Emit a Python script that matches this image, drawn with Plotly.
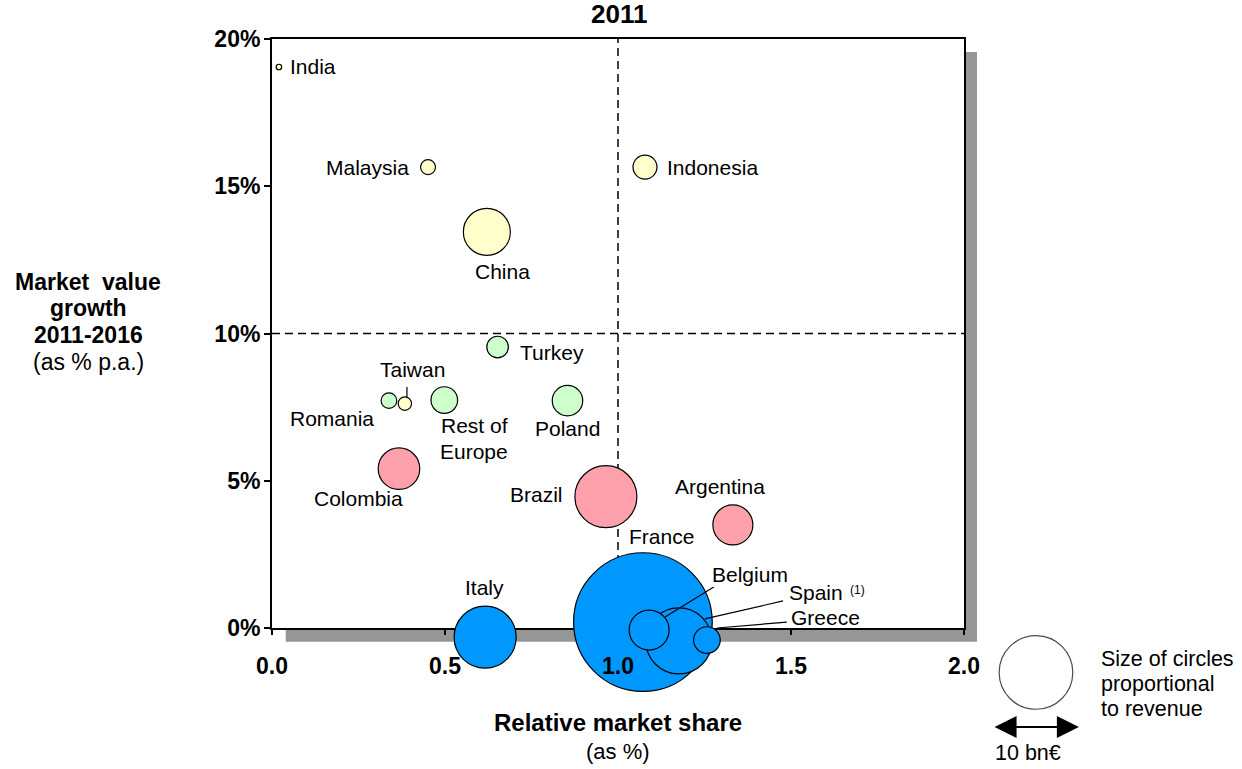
import plotly.graph_objects as go

# ---------------- data ----------------
countries = ["India", "Malaysia", "Indonesia", "China", "Turkey", "Romania", "Taiwan",
             "Rest of Europe", "Poland", "Colombia", "Brazil", "Argentina",
             "Italy", "France", "Spain", "Belgium", "Greece"]
rel_share = [0.020, 0.451, 1.078, 0.621, 0.652, 0.338, 0.384,
             0.498, 0.854, 0.367, 0.965, 1.332,
             0.616, 1.072, 1.176, 1.090, 1.257]
growth = [19.05, 15.65, 15.65, 13.45, 9.54, 7.72, 7.62,
          7.74, 7.72, 5.41, 4.46, 3.50,
          -0.31, 0.20, -0.44, -0.07, -0.41]
revenue = [0.056, 0.415, 1.06, 4.08, 0.86, 0.45, 0.33,
           1.31, 1.71, 3.19, 7.10, 2.95,
           7.10, 35.5, 8.04, 2.95, 1.31]          # bn EUR
region = ["asia", "asia", "asia", "asia", "europe", "europe", "asia",
          "europe", "europe", "latam", "latam", "latam",
          "core", "core", "core", "core", "core"]
legend_revenue = 10  # bn EUR

x_ticks = [0.0, 0.5, 1.0, 1.5, 2.0]
x_ticktext = ["0.0", "0.5", "1.0", "1.5", "2.0"]
y_ticks = [0, 5, 10, 15, 20]
y_ticktext = ["0%", "5%", "10%", "15%", "20%"]
x_range = [0, 2]
y_range = [0, 20]

# ---------------- geometry / styles ----------------
W, H = 1242, 769
PL, PR, PT, PB = 272, 964, 39, 628          # plot frame in px
region_colors = {"asia": "#FFFFCC", "europe": "#CCFFCC", "latam": "#FFA1AC", "core": "#0098FF"}
FONT = "Liberation Sans, Arial, Helvetica, sans-serif"
LEG_R = 36.8  # legend circle radius in px for 10 bn EUR
sizeref = legend_revenue / (2 * LEG_R ** 2)

# bubble layer: full-figure axes with the same scale as the framed axes
sx = (PR - PL) / (x_range[1] - x_range[0])
sy = (PB - PT) / (y_range[1] - y_range[0])
bx_range = [x_range[0] - PL / sx, x_range[0] + (W - PL) / sx]
by_range = [y_range[0] - (H - PB) / sy, y_range[0] + PB / sy]


def px(x):
    return x / W


def py(y):
    return 1 - y / H


fig = go.Figure()
# subplot 1 (x/y): frame + ticks, drawn first (under the bubbles)
fig.add_trace(go.Scatter(x=[], y=[], xaxis="x", yaxis="y", showlegend=False))
# subplot 2 (x2/y2): bubbles
fig.add_trace(go.Scatter(
    x=rel_share, y=growth, mode="markers", cliponaxis=False, hoverinfo="text",
    text=countries, xaxis="x2", yaxis="y2",
    marker=dict(size=revenue, sizemode="area", sizeref=sizeref,
                color=[region_colors[r] for r in region],
                line=dict(color="black", width=1.2), opacity=1),
    showlegend=False))
# legend circle (10 bn EUR)
fig.add_trace(go.Scatter(
    x=[2.208], y=[-1.51], mode="markers", cliponaxis=False, hoverinfo="skip",
    xaxis="x2", yaxis="y2",
    marker=dict(size=[legend_revenue], sizemode="area", sizeref=sizeref,
                color="white", line=dict(color="black", width=1.2)),
    showlegend=False))
# subplot 3 (x3/y3): tick labels on top of everything
fig.add_trace(go.Scatter(x=[], y=[], xaxis="x3", yaxis="y3", showlegend=False))

# ---------------- labels ----------------
labels = [
    ("India", 0.046, 19.05, "left"),
    ("Malaysia", 0.402, 15.65, "right"),
    ("Indonesia", 1.136, 15.62, "left"),
    ("China", 0.665, 12.12, "center"),
    ("Turkey", 0.711, 9.37, "left"),
    ("Taiwan", 0.405, 8.79, "center"),
    ("Romania", 0.173, 7.13, "center"),
    ("Rest of", 0.584, 6.89, "center"),
    ("Europe", 0.584, 6.01, "center"),
    ("Poland", 0.855, 6.79, "center"),
    ("Colombia", 0.251, 4.41, "center"),
    ("Brazil", 0.763, 4.52, "center"),
    ("Argentina", 1.295, 4.82, "center"),
    ("France", 1.127, 3.12, "center"),
    ("Italy", 0.613, 1.39, "center"),
    ("Belgium", 1.382, 1.83, "center"),
    ("Spain", 1.572, 1.19, "center"),
    ("Greece", 1.601, 0.34, "center"),
]
ann = []
for t, x, y, anc in labels:
    ann.append(dict(text=t, x=x, y=y, xref="x2", yref="y2", xanchor=anc, yanchor="middle",
                    showarrow=False, font=dict(family=FONT, size=21, color="black")))
ann.append(dict(text="(1)", x=1.691, y=1.29, xref="x2", yref="y2", showarrow=False,
                font=dict(family=FONT, size=12, color="black")))

leaders = [
    (0.390, 8.18, 0.390, 7.84),
    (1.277, 1.39, 1.136, 0.37),
    (1.477, 0.92, 1.251, 0.31),
    (1.488, 0.20, 1.286, 0.00),
]


def txt(text, x, y, size, anchor="center"):
    return dict(text=text, x=px(x), y=py(y), xref="paper", yref="paper", showarrow=False,
                xanchor=anchor, yanchor="middle", font=dict(family=FONT, size=size, color="black"))


ann.append(txt("<b>2011</b>", 619, 14, 26))
ann.append(txt("<b>Relative market share</b>", 618, 722, 24))
ann.append(txt("(as %)", 618, 751, 22))
for t, y in [("<b>Market  value</b>", 282), ("<b>growth</b>", 308),
             ("<b>2011-2016</b>", 335), ("(as % p.a.)", 362)]:
    ann.append(txt(t, 88, y, 23))
for t, y in [("Size of circles", 659), ("proportional", 684), ("to revenue", 709)]:
    ann.append(txt(t, 1099, y, 21.5, "left"))
ann.append(txt("10 bn€", 1028, 753, 21.5))

# double arrow under the legend circle
ann.append(dict(text="", x=2.332, y=-3.36, ax=2.084, ay=-3.36, xref="x2", yref="y2",
                axref="x2", ayref="y2", showarrow=True, arrowside="end+start",
                arrowhead=2, startarrowhead=2, arrowsize=2.2, startarrowsize=2.2,
                arrowwidth=2, arrowcolor="black", standoff=0, startstandoff=0))

shapes = [
    # drop shadow
    dict(type="rect", xref="paper", yref="paper", x0=px(PL + 13.7), x1=px(PR + 13),
         y0=py(PB + 13.7), y1=py(PT + 13), fillcolor="#969696", line=dict(width=0), layer="below"),
    dict(type="rect", xref="paper", yref="paper", x0=px(PL), x1=px(PR), y0=py(PB), y1=py(PT),
         fillcolor="white", line=dict(width=0), layer="below"),
    # quadrant lines
    dict(type="line", xref="x2", yref="y2", x0=1.0, x1=1.0, y0=0, y1=20,
         line=dict(color="black", width=1.5, dash="8px,5px"), layer="below"),
    dict(type="line", xref="x2", yref="y2", x0=0, x1=2, y0=10, y1=10,
         line=dict(color="black", width=1.5, dash="8px,5px"), layer="below"),
]
for x0, y0, x1, y1 in leaders:
    shapes.append(dict(type="line", xref="x2", yref="y2", x0=x0, y0=y0, x1=x1, y1=y1,
                       line=dict(color="black", width=1.2), layer="above"))

tickfont = dict(family=FONT, size=23, color="black", weight="bold")
frame_common = dict(showgrid=False, zeroline=False, showline=True, mirror=True,
                    linecolor="black", linewidth=2, ticks="outside", tickcolor="black",
                    tickwidth=1.5, showticklabels=False, fixedrange=True, automargin=False)
label_common = dict(showgrid=False, zeroline=False, showline=False, ticks="outside",
                    tickcolor="rgba(0,0,0,0)", tickfont=tickfont, fixedrange=True,
                    automargin=False)

fig.update_layout(
    width=W, height=H, autosize=False,
    margin=dict(l=0, r=0, t=0, b=0, autoexpand=False),
    paper_bgcolor="white", plot_bgcolor="rgba(0,0,0,0)",
    annotations=ann, shapes=shapes,
    xaxis=dict(domain=[px(PL), px(PR)], range=x_range, anchor="y", tickvals=x_ticks,
               ticklen=5, **frame_common),
    yaxis=dict(domain=[py(PB), py(PT)], range=y_range, anchor="x", tickvals=y_ticks,
               ticklen=6, **frame_common),
    xaxis2=dict(domain=[0, 1], range=bx_range, anchor="y2", visible=False, fixedrange=True),
    yaxis2=dict(domain=[0, 1], range=by_range, anchor="x2", visible=False, fixedrange=True),
    xaxis3=dict(domain=[px(PL), px(PR)], range=x_range, anchor="y3", tickvals=x_ticks,
                ticktext=x_ticktext, ticklen=5, ticklabelstandoff=12, **label_common),
    yaxis3=dict(domain=[py(PB), py(PT)], range=y_range, anchor="x3", tickvals=y_ticks,
                ticktext=y_ticktext, ticklen=6, **label_common),
    hovermode="closest",
)

fig.write_html("out.html")
